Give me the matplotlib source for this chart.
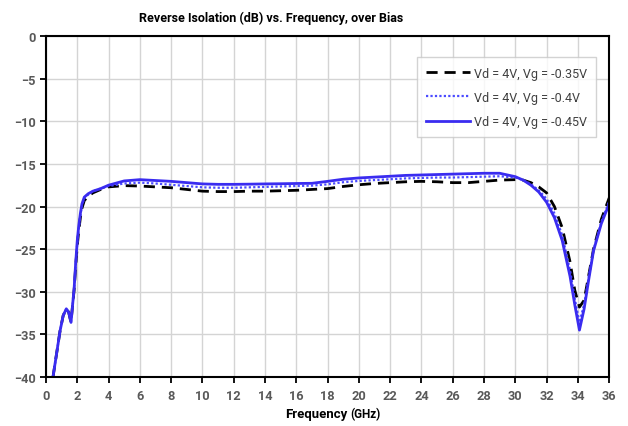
import matplotlib
matplotlib.use("Agg")
import matplotlib.pyplot as plt

# 데이터
freq = [0.45, 0.7, 0.9, 1.1, 1.3, 1.45, 1.6, 1.7, 1.8, 1.9, 2.0, 2.1, 2.2, 2.3, 2.45, 2.7,
        3.0, 3.5, 4, 5, 6, 7, 8, 9, 10, 11, 12, 13, 14, 15, 16, 17, 18, 19, 20, 21, 22,
        23, 24, 25, 26, 27, 28, 29, 30, 30.5, 31, 31.5, 32, 32.5, 33, 33.5, 33.8, 34.1,
        34.4, 34.7, 35, 35.5, 36]

vg_035 = [-40, -37, -34.6, -32.8, -32.0, -32.4, -33.6, -31.6, -29.8, -27.0, -24.6, -22.8,
          -21.3, -20.2, -19.3, -18.8, -18.4, -18.0, -17.7, -17.55, -17.6, -17.7, -17.8,
          -18.0, -18.2, -18.25, -18.25, -18.2, -18.2, -18.15, -18.1, -18.0, -17.9, -17.65,
          -17.45, -17.3, -17.2, -17.1, -17.05, -17.1, -17.2, -17.2, -17.05, -16.9, -16.85,
          -16.9, -17.2, -17.7, -18.4, -20.0, -22.5, -26.5, -29.8, -31.8, -31.0, -28.0,
          -25.0, -21.5, -19.0]

vg_040 = [-40, -37, -34.6, -32.8, -32.0, -32.4, -33.6, -31.6, -29.7, -26.8, -24.3, -22.5,
          -21.0, -19.9, -19.0, -18.6, -18.2, -17.9, -17.6, -17.3, -17.2, -17.3, -17.45,
          -17.6, -17.75, -17.8, -17.8, -17.75, -17.7, -17.65, -17.6, -17.55, -17.4, -17.15,
          -17.0, -16.9, -16.8, -16.7, -16.65, -16.6, -16.6, -16.55, -16.5, -16.45, -16.6,
          -16.9, -17.4, -18.1, -19.1, -20.8, -23.4, -27.5, -30.8, -33.6, -31.5, -28.2,
          -25.1, -21.8, -19.4]

vg_045 = [-40, -37, -34.6, -32.8, -32.0, -32.4, -33.6, -31.6, -29.6, -26.6, -24.0, -22.2,
          -20.8, -19.7, -18.9, -18.5, -18.2, -17.9, -17.5, -17.0, -16.85, -16.95, -17.05,
          -17.2, -17.35, -17.4, -17.4, -17.38, -17.35, -17.33, -17.3, -17.28, -17.05, -16.8,
          -16.65, -16.55, -16.45, -16.35, -16.3, -16.25, -16.2, -16.15, -16.1, -16.1,
          -16.5, -16.9, -17.5, -18.3, -19.5, -21.3, -24.0, -28.2, -31.5, -34.5, -32.0,
          -28.5, -25.2, -22.0, -19.7]

labels = ["Vd = 4V, Vg = -0.35V", "Vd = 4V, Vg = -0.4V", "Vd = 4V, Vg = -0.45V"]
xticks = list(range(0, 37, 2))
yticks = list(range(-40, 1, 5))

plt.rcParams["font.family"] = ["Roboto", "DejaVu Sans"]

fig = plt.figure(figsize=(6.28, 4.27), dpi=100)
ax = fig.add_axes([0.0732, 0.1148, 0.8968, 0.7985])

ax.plot(freq, vg_035, color="black", linestyle=(0, (4, 2.5)), linewidth=2, label=labels[0])
ax.plot(freq, vg_040, color="#4b4bff", linestyle=(0, (1, 1)), linewidth=1.6, label=labels[1])
ax.plot(freq, vg_045, color="#3a2cf0", linestyle="-", linewidth=2, label=labels[2])

ax.set_xlim(0, 36)
ax.set_ylim(-40, 0)
ax.set_xticks(xticks)
ax.set_yticks(yticks)
ax.grid(True, color="#d4d4d4", linewidth=1)
ax.set_axisbelow(True)

for s in ax.spines.values():
    s.set_color("black")
    s.set_linewidth(1.5)

ax.tick_params(axis="both", direction="out", length=4, width=1.3, color="black",
               labelsize=9.2, labelcolor="#595959")
ax.tick_params(axis="x", pad=5)
for lab in ax.get_xticklabels() + ax.get_yticklabels():
    lab.set_fontweight("bold")

# 제목 / 축 라벨
fig.text(0.4315, 0.958, "Reverse Isolation (dB) vs. Frequency, over Bias", fontsize=9,
         fontweight="bold", ha="center", va="center")
fig.text(347 / 628, 1 - 418 / 427, "Frequency", fontsize=9.5, fontweight="bold",
         ha="right", va="baseline")
fig.text(350 / 628, 1 - 418 / 427, "(GHz)", fontsize=8.5, fontweight="bold",
         ha="left", va="baseline")

leg = ax.legend(loc="upper right", bbox_to_anchor=(0.977, 0.938), borderaxespad=0,
                fontsize=9, frameon=True, fancybox=False, edgecolor="#c8c8c8",
                handlelength=3.5, labelspacing=0.9, borderpad=0.75, handletextpad=0.3)
leg.get_frame().set_linewidth(1)
for t in leg.get_texts():
    t.set_color("#404040")

fig.savefig("out.png", dpi=100)
plt.close(fig)
